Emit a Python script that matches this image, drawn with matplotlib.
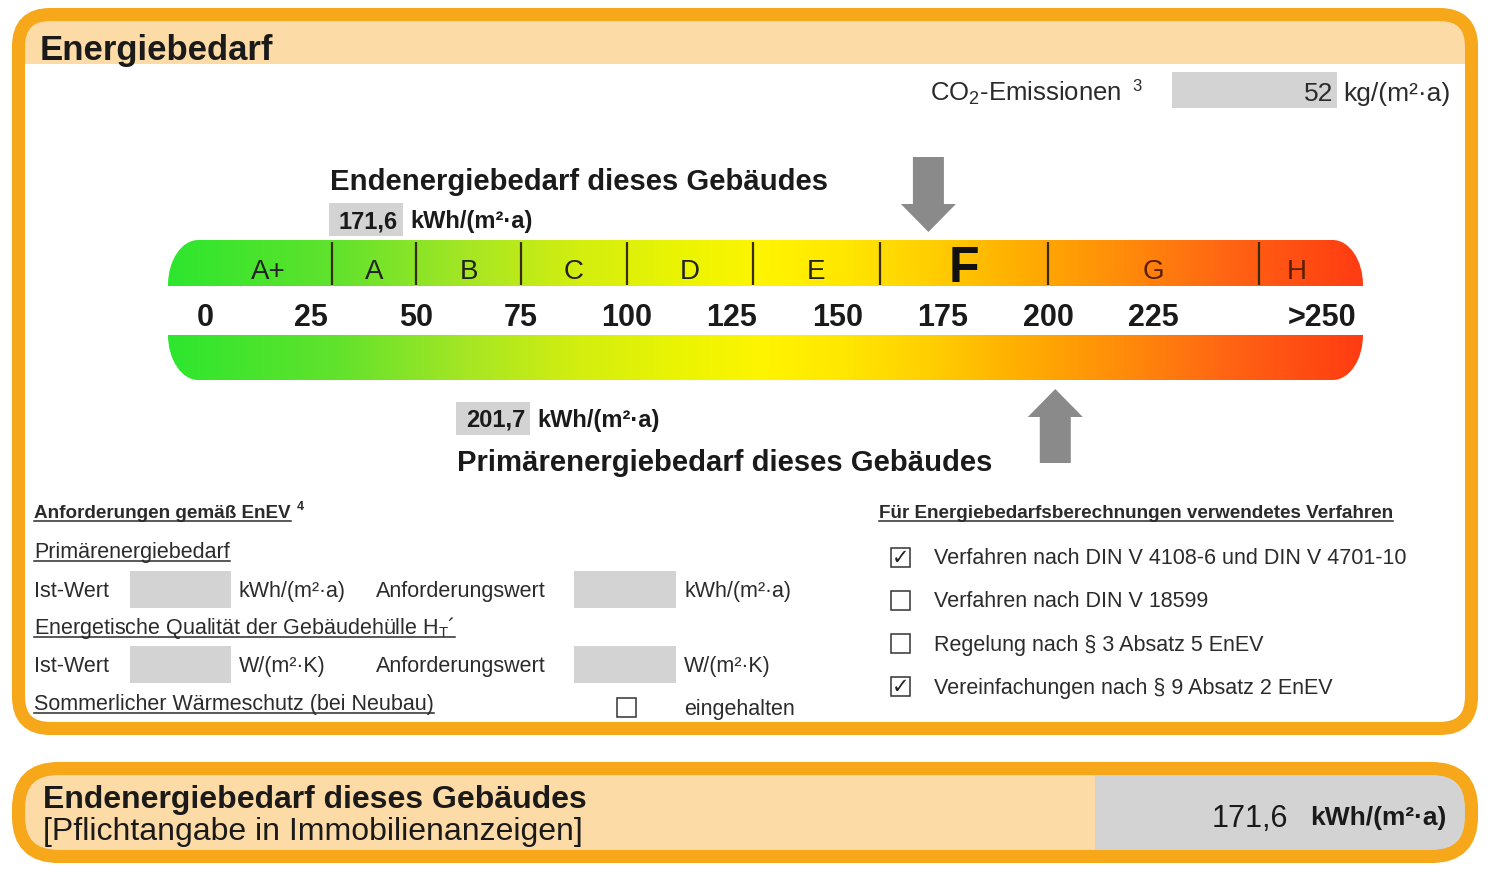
import numpy as np
import matplotlib.pyplot as plt
from matplotlib.patches import Rectangle, FancyBboxPatch, FancyArrow, PathPatch
from matplotlib.path import Path
from matplotlib.colors import LinearSegmentedColormap

plt.rcParams['font.family'] = ['Liberation Sans', 'DejaVu Sans']
plt.rcParams['mathtext.fontset'] = 'custom'
plt.rcParams['mathtext.rm'] = 'Liberation Sans'
plt.rcParams['mathtext.it'] = 'Liberation Sans:italic'
plt.rcParams['mathtext.bf'] = 'Liberation Sans:bold'


# energy classes and scale
class_labels = ['A+', 'A', 'B', 'C', 'D', 'E', 'F', 'G', 'H']
class_centers = [15, 40, 62.5, 87.5, 115, 145, 180, 225, 259]
class_bounds = [30, 50, 75, 100, 130, 160, 200, 250]
tick_values = [0, 25, 50, 75, 100, 125, 150, 175, 200, 225, 265]
tick_labels = ['0', '25', '50', '75', '100', '125', '150', '175', '200', '225', '>250']
scale_min, scale_max = -8.8, 274.7

# values of this building
end_energy = 171.6
primary_energy = 201.7
co2_emission = 52

# gradient of the colour bar (position along bar, colour)
grad_pos = [0.0, 0.14, 0.25, 0.34, 0.44, 0.50, 0.57, 0.64, 0.71, 0.80, 0.89, 1.0]
grad_col = ['#2EE62E', '#62E22C', '#A6E624', '#D2EE10', '#EEF500', '#FFF400',
            '#FFE600', '#FFCE00', '#FFB000', '#FF8C0A', '#FF6414', '#FF3C12']

# lower part
req_units = ['kWh/(m²·a)', 'W/(m²·K)']
procedure_labels = ['Verfahren nach DIN V 4108-6 und DIN V 4701-10',
                    'Verfahren nach DIN V 18599',
                    'Regelung nach § 3 Absatz 5 EnEV',
                    'Vereinfachungen nach § 9 Absatz 2 EnEV']
procedure_checked = [True, False, False, True]

ORANGE = '#F6A71A'
PEACH = '#FDDBA6'
GRAY = '#D3D3D3'
TXT = '#1a1a1a'
TXT2 = '#2b2b2b'


def rounded_path(x0, x1, y0, y1, rx, ry):
	# rounded rectangle with elliptic corners (rx, ry in the axes own units)
	k = 0.5523
	verts = [(x0 + rx, y0), (x1 - rx, y0),
		(x1 - rx + k * rx, y0), (x1, y0 + ry - k * ry), (x1, y0 + ry),
		(x1, y1 - ry),
		(x1, y1 - ry + k * ry), (x1 - rx + k * rx, y1), (x1 - rx, y1),
		(x0 + rx, y1),
		(x0 + rx - k * rx, y1), (x0, y1 - ry + k * ry), (x0, y1 - ry),
		(x0, y0 + ry),
		(x0, y0 + ry - k * ry), (x0 + rx - k * rx, y0), (x0 + rx, y0),
		(x0 + rx, y0)]
	codes = [Path.MOVETO, Path.LINETO,
		Path.CURVE4, Path.CURVE4, Path.CURVE4,
		Path.LINETO,
		Path.CURVE4, Path.CURVE4, Path.CURVE4,
		Path.LINETO,
		Path.CURVE4, Path.CURVE4, Path.CURVE4,
		Path.LINETO,
		Path.CURVE4, Path.CURVE4, Path.CURVE4,
		Path.CLOSEPOLY]
	return Path(verts, codes)


def checkbox(ax, x, y, checked):
	ax.add_patch(Rectangle((x, y), 19, 19, fc='white', ec='#333333', lw=1.1))
	if checked:
		ax.text(x + 10, y + 10, '✓', family='DejaVu Sans', fontsize=15,
			ha='center', va='center', color='#222222')


def main():
	fig = plt.figure(figsize=(15, 8.76), dpi=100)
	ax = fig.add_axes([0, 0, 1, 1])
	ax.set_xlim(0, 1500)
	ax.set_ylim(876, 0)
	ax.axis('off')

	# outer frame with title band
	frame = FancyBboxPatch((18.5, 14.5), 1453, 714, boxstyle='round,pad=0,rounding_size=32',
		fc='white', ec='none', zorder=0)
	ax.add_patch(frame)
	band = Rectangle((0, 0), 1500, 64, fc=PEACH, ec='none', zorder=0.5)
	ax.add_patch(band)
	band.set_clip_path(frame)
	ax.add_patch(FancyBboxPatch((18.5, 14.5), 1453, 714, boxstyle='round,pad=0,rounding_size=32',
		fc='none', ec=ORANGE, lw=9.4, zorder=1))
	ax.text(40, 60, 'Energiebedarf', fontsize=25, weight='bold', color=TXT, va='baseline')

	# CO2
	ax.text(930, 101, 'CO$_{\\mathrm{2}}$-Emissionen', fontsize=18.5, color=TXT2, va='baseline')
	ax.text(1132, 91, '3', fontsize=12, color=TXT2, va='baseline')
	ax.add_patch(Rectangle((1172, 72), 165, 36, fc=GRAY, ec='none'))
	ax.text(1333, 101, str(co2_emission), fontsize=19, color=TXT2, ha='right', va='baseline')
	ax.text(1343, 101, 'kg/(m²·a)', fontsize=19, color=TXT2, va='baseline')

	# end energy heading
	ax.text(330, 190, 'Endenergiebedarf dieses Gebäudes', fontsize=21.1, weight='bold',
		color=TXT, va='baseline')
	ax.add_patch(Rectangle((329, 203), 74, 33, fc=GRAY, ec='none'))
	ax.text(398, 228, f'{end_energy:.1f}'.replace('.', ','), fontsize=17, weight='bold',
		color=TXT, ha='right', va='baseline')
	ax.text(410, 228, 'kWh/(m²·a)', fontsize=17, weight='bold', color=TXT, va='baseline')

	# primary energy heading
	ax.add_patch(Rectangle((456, 402), 74, 33, fc=GRAY, ec='none'))
	ax.text(525, 427, f'{primary_energy:.1f}'.replace('.', ','), fontsize=17, weight='bold',
		color=TXT, ha='right', va='baseline')
	ax.text(537, 427, 'kWh/(m²·a)', fontsize=17, weight='bold', color=TXT, va='baseline')
	ax.text(457, 471, 'Primärenergiebedarf dieses Gebäudes', fontsize=21.1, weight='bold',
		color=TXT, va='baseline')

	# colour scale in its own axes: x in kWh/(m2 a), y in pixels
	bx = fig.add_axes([168 / 1500, 1 - 470 / 876, 1195 / 1500, 320 / 876])
	bx.axis('off')
	cmap = LinearSegmentedColormap.from_list('energy', list(zip(grad_pos, grad_col)))
	pill = PathPatch(rounded_path(scale_min, scale_max, 240, 380, 7.2, 45),
		fc='none', ec='none')
	bx.add_patch(pill)
	im = bx.imshow(np.linspace(0, 1, 600).reshape(1, -1), cmap=cmap, aspect='auto',
		extent=[scale_min, scale_max, 380, 240], interpolation='bilinear')
	im.set_clip_path(pill)
	bx.add_patch(Rectangle((scale_min, 286), scale_max - scale_min, 49, fc='white',
		ec='none', zorder=2))
	bx.vlines(class_bounds, 242, 285, colors='#3a2a10', lw=1.6, zorder=3)

	active = int(np.searchsorted(class_bounds, end_energy))
	for i, (lab, c) in enumerate(zip(class_labels, class_centers)):
		if i == active:
			bx.text(c, 282, lab, fontsize=36, weight='bold', ha='center', va='baseline',
				color='#111111', zorder=4)
		else:
			col = '#5a1e00' if i >= 7 else '#222222'
			bx.text(c, 279, lab, fontsize=20, ha='center', va='baseline', color=col, zorder=4)
	for v, lab in zip(tick_values, tick_labels):
		bx.text(v, 326, lab, fontsize=22, weight='bold', ha='center', va='baseline',
			color=TXT, zorder=4)

	bx.add_patch(FancyArrow(end_energy, 157, 0, 75, width=31 / 4.215, head_width=55 / 4.215,
		head_length=28, length_includes_head=True, fc='#8a8a8a', ec='none', zorder=5))
	bx.add_patch(FancyArrow(primary_energy, 463, 0, -74, width=31 / 4.215,
		head_width=55 / 4.215, head_length=28, length_includes_head=True,
		fc='#8a8a8a', ec='none', zorder=5))
	bx.set_xlim(scale_min, scale_max)
	bx.set_ylim(470, 150)

	# requirements (left)
	under = []
	head_left = ax.text(34, 518, 'Anforderungen gemäß EnEV', fontsize=13.6, weight='bold',
		color=TXT2, va='baseline')
	under.append(head_left)
	under.append(ax.text(34, 558, 'Primärenergiebedarf', fontsize=15.5, color=TXT2, va='baseline'))
	under.append(ax.text(34, 634, 'Energetische Qualität der Gebäudehülle H$_{\\mathrm{T}}$´',
		fontsize=15.5, color=TXT2, va='baseline'))
	under.append(ax.text(34, 710, 'Sommerlicher Wärmeschutz (bei Neubau)', fontsize=15.5,
		color=TXT2, va='baseline'))
	for row_y, unit in zip([590, 665], req_units):
		ax.text(34, row_y + 7, 'Ist-Wert', fontsize=15.5, color=TXT2, va='baseline')
		ax.add_patch(Rectangle((130, row_y - 19), 101, 37, fc=GRAY, ec='none'))
		ax.text(239, row_y + 7, unit, fontsize=15.5, color=TXT2, va='baseline')
		ax.text(376, row_y + 7, 'Anforderungswert', fontsize=15.5, color=TXT2, va='baseline')
		ax.add_patch(Rectangle((574, row_y - 19), 102, 37, fc=GRAY, ec='none'))
		ax.text(684, row_y + 7, unit, fontsize=15.5, color=TXT2, va='baseline')
	checkbox(ax, 617, 698, False)
	ax.text(684, 715, 'eingehalten', fontsize=15.5, color=TXT2, va='baseline')

	# procedures (right)
	under.append(ax.text(879, 518, 'Für Energiebedarfsberechnungen verwendetes Verfahren',
		fontsize=13.6, weight='bold', color=TXT2, va='baseline'))
	for k, (lab, chk) in enumerate(zip(procedure_labels, procedure_checked)):
		cy = 557 + k * 43.3
		checkbox(ax, 891, cy - 9.5, chk)
		ax.text(934, cy + 7, lab, fontsize=15.5, color=TXT2, va='baseline')

	# bottom box
	bottom = FancyBboxPatch((18.5, 768.5), 1453, 88, boxstyle='round,pad=0,rounding_size=40',
		fc=PEACH, ec='none', zorder=0)
	ax.add_patch(bottom)
	gbox = Rectangle((1095, 760), 400, 110, fc=GRAY, ec='none', zorder=0.5)
	ax.add_patch(gbox)
	gbox.set_clip_path(bottom)
	ax.add_patch(FancyBboxPatch((18.5, 768.5), 1453, 88, boxstyle='round,pad=0,rounding_size=40',
		fc='none', ec=ORANGE, lw=9.4, zorder=1))
	ax.text(43, 808, 'Endenergiebedarf dieses Gebäudes', fontsize=23, weight='bold',
		color=TXT, va='baseline')
	ax.text(43, 840, '[Pflichtangabe in Immobilienanzeigen]', fontsize=23, color=TXT,
		va='baseline')
	ax.text(1288, 827, f'{end_energy:.1f}'.replace('.', ','), fontsize=22, color=TXT,
		ha='right', va='baseline')
	ax.text(1310, 825, 'kWh/(m²·a)', fontsize=19, weight='bold', color=TXT, va='baseline')

	# underlines below the marked texts, footnote mark after the left heading
	fig.canvas.draw()
	r = fig.canvas.get_renderer()
	inv = ax.transData.inverted()
	for t in under:
		bb = t.get_window_extent(r)
		(x0, _), (x1, _) = inv.transform([(bb.x0, bb.y0), (bb.x1, bb.y1)])
		yb = t.get_position()[1] + 3
		ax.plot([x0, x1], [yb, yb], color=TXT2, lw=1.1)
		if t is head_left:
			ax.text(x1 + 6, 510, '4', fontsize=9, weight='bold', color=TXT2, va='baseline')

	fig.savefig('out.png', dpi=100)


if __name__ == "__main__":
	main()
